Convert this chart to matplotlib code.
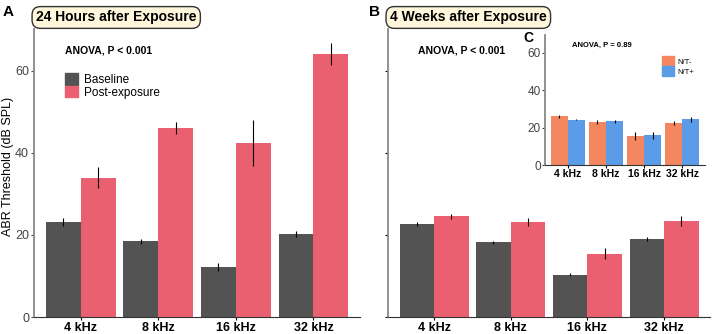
import matplotlib.pyplot as plt
import numpy as np
from matplotlib.patches import Patch

plt.rcParams['font.family'] = ['Liberation Sans', 'DejaVu Sans']

freqs = ['4 kHz', '8 kHz', '16 kHz', '32 kHz']

# panel A: 24 hours
a_base = [23.2, 18.5, 12.2, 20.2]
a_base_err = [1.0, 0.6, 0.9, 0.8]
a_post = [34.0, 46.1, 42.5, 64.2]
a_post_err = [2.5, 1.5, 5.6, 2.7]

# panel B: 4 weeks
b_base = [22.7, 18.2, 10.3, 19.0]
b_base_err = [0.4, 0.4, 0.4, 0.4]
b_post = [24.5, 23.1, 15.4, 23.4]
b_post_err = [0.6, 1.0, 1.3, 1.2]

# panel C: inset
c_neg = [26.0, 23.0, 15.5, 22.5]
c_neg_err = [0.7, 1.2, 2.3, 1.0]
c_pos = [24.2, 23.3, 15.8, 24.4]
c_pos_err = [0.4, 1.0, 1.8, 1.5]

GREY = '#535353'
PINK = '#EA6070'
ORANGE = '#F4875F'
BLUE = '#5B9CE8'
BOX = '#FFF6DC'

fig = plt.figure(figsize=(7.12, 3.34), dpi=100)


def bars(ax, v1, e1, v2, e2, c1, c2, w=0.45, cap=0, lw=0.8):
    x = np.arange(len(freqs))
    ax.bar(x - w / 2, v1, w, color=c1, yerr=e1, error_kw=dict(ecolor='black', lw=lw, capsize=cap))
    ax.bar(x + w / 2, v2, w, color=c2, yerr=e2, error_kw=dict(ecolor='black', lw=lw, capsize=cap))
    ax.set_xticks(x)
    ax.set_xlim(-0.6, 3.6)
    for s in ['top', 'right']:
        ax.spines[s].set_visible(False)
    ax.spines['left'].set_color('#888888')
    ax.spines['left'].set_linewidth(1.3)
    ax.spines['bottom'].set_color('#333333')


def title_box(ax, txt):
    ax.text(0.006, 1.04, txt, transform=ax.transAxes, fontsize=10, fontweight='bold',
            ha='left', va='center',
            bbox=dict(boxstyle='round,pad=0.28,rounding_size=0.6', fc=BOX, ec='#333333', lw=1))


axA = fig.add_axes([34 / 712, 1 - 317 / 334, 326 / 712, 288 / 334])
bars(axA, a_base, a_base_err, a_post, a_post_err, GREY, PINK)
axA.set_ylim(0, 70.2)
axA.set_yticks([0, 20, 40, 60])
axA.tick_params(axis='y', labelsize=9, colors='#444444', length=2.5, pad=1)
axA.tick_params(axis='x', length=2.5, pad=1)
axA.set_xticklabels(freqs, fontsize=9, fontweight='bold')
axA.set_ylabel('ABR Threshold (dB SPL)', fontsize=9)
axA.yaxis.set_label_coords(-0.061, 0.524)
axA.text(0.095, 0.927, 'ANOVA, P < 0.001', transform=axA.transAxes, fontsize=7.5,
         fontweight='bold', ha='left', va='center')
axA.legend(handles=[Patch(color=GREY, label='Baseline'), Patch(color=PINK, label='Post-exposure')],
           loc='upper left', bbox_to_anchor=(0.07, 0.875), frameon=False, fontsize=8.5,
           handlelength=1.1, handleheight=1.1, handletextpad=0.5, labelspacing=0.0,
           borderpad=0.2)
title_box(axA, '24 Hours after Exposure')
fig.text(3 / 712, 1 - 12 / 334, 'A', fontsize=11, fontweight='bold', va='center')

axB = fig.add_axes([388 / 712, 1 - 317 / 334, 322 / 712, 288 / 334])
bars(axB, b_base, b_base_err, b_post, b_post_err, GREY, PINK)
axB.set_ylim(0, 70.2)
axB.set_yticks([0, 20, 40, 60])
axB.set_yticklabels([])
axB.tick_params(axis='y', length=2.5)
axB.tick_params(axis='x', length=2.5, pad=1)
axB.set_xticklabels(freqs, fontsize=9, fontweight='bold')
axB.text(0.093, 0.927, 'ANOVA, P < 0.001', transform=axB.transAxes, fontsize=7.5,
         fontweight='bold', ha='left', va='center')
title_box(axB, '4 Weeks after Exposure')
fig.text(369 / 712, 1 - 12 / 334, 'B', fontsize=11, fontweight='bold', va='center')

axC = fig.add_axes([545 / 712, 1 - 165 / 334, 160 / 712, 130 / 334])
bars(axC, c_neg, c_neg_err, c_pos, c_pos_err, ORANGE, BLUE, cap=0, lw=0.8)
axC.set_ylim(0, 69.5)
axC.set_yticks([0, 20, 40, 60])
axC.tick_params(axis='y', labelsize=8.5, colors='#444444', length=2, pad=1)
axC.tick_params(axis='x', length=2, pad=1)
axC.set_xticklabels(freqs, fontsize=7.5, fontweight='bold')
axC.patch.set_alpha(0)
axC.text(0.17, 0.92, 'ANOVA, P = 0.89', transform=axC.transAxes, fontsize=5.5,
         fontweight='bold', ha='left', va='center')
axC.legend(handles=[Patch(color=ORANGE, label='N/T-'), Patch(color=BLUE, label='N/T+')],
           loc='upper left', bbox_to_anchor=(0.70, 0.87), frameon=False, fontsize=5.5,
           handlelength=1.6, handleheight=1.6, handletextpad=0.5, labelspacing=0.0,
           borderpad=0.1)
fig.text(523 / 712, 1 - 38 / 334, 'C', fontsize=10, fontweight='bold', va='center')

fig.savefig('out.png', dpi=100)
